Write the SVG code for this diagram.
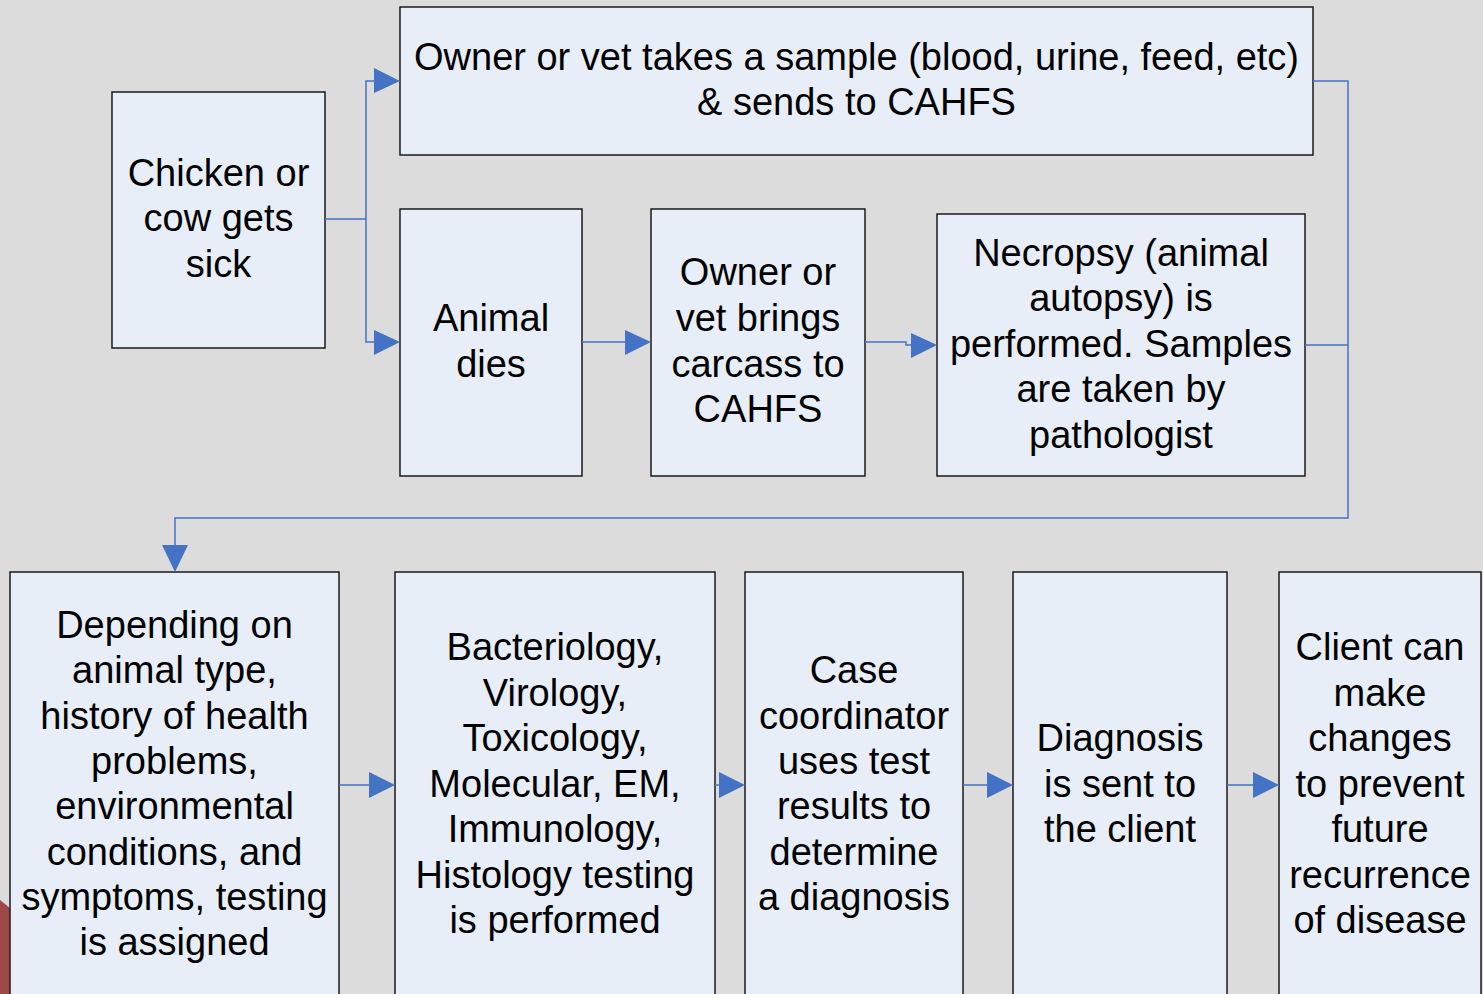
<svg xmlns="http://www.w3.org/2000/svg" width="1483" height="994" viewBox="0 0 1483 994">
<defs>
<style>
.box{fill:#e8eef8;stroke:#1a1a1a;stroke-width:1.5}
.t{font-family:"Liberation Sans",Arial,sans-serif;font-size:38px;fill:#000;text-anchor:middle}
.c{fill:none;stroke:#4472c4;stroke-width:1.5}
.ah{fill:#4472c4}
</style>
</defs>
<rect width="1483" height="994" fill="#dcdcdc"/>
<polygon points="0,900 10,908 10,994 0,994" fill="#a04848"/>
<g id="sick"><rect class="box" x="112" y="92" width="213" height="256"/>
<text class="t" x="218.5" y="186">Chicken or</text><text class="t" x="218.5" y="231">cow gets</text><text class="t" x="218.5" y="277">sick</text></g>
<g id="sample"><rect class="box" x="400" y="7" width="913" height="148"/>
<text class="t" x="856.5" y="70">Owner or vet takes a sample (blood, urine, feed, etc)</text><text class="t" x="856.5" y="115">&amp; sends to CAHFS</text></g>
<g id="dies"><rect class="box" x="400" y="209" width="182" height="267"/>
<text class="t" x="491" y="331">Animal</text><text class="t" x="491" y="377">dies</text></g>
<g id="brings"><rect class="box" x="651" y="209" width="214" height="267"/>
<text class="t" x="758" y="285">Owner or</text><text class="t" x="758" y="331">vet brings</text><text class="t" x="758" y="377">carcass to</text><text class="t" x="758" y="422">CAHFS</text></g>
<g id="necropsy"><rect class="box" x="937" y="214" width="368" height="262"/>
<text class="t" x="1121" y="266">Necropsy (animal</text><text class="t" x="1121" y="311">autopsy) is</text><text class="t" x="1121" y="357">performed. Samples</text><text class="t" x="1121" y="402">are taken by</text><text class="t" x="1121" y="448">pathologist</text></g>
<g id="depending"><rect class="box" x="10" y="572" width="329" height="430"/>
<text class="t" x="174.5" y="638">Depending on</text><text class="t" x="174.5" y="683">animal type,</text><text class="t" x="174.5" y="729">history of health</text><text class="t" x="174.5" y="774">problems,</text><text class="t" x="174.5" y="819">environmental</text><text class="t" x="174.5" y="865">conditions, and</text><text class="t" x="174.5" y="910">symptoms, testing</text><text class="t" x="174.5" y="955">is assigned</text></g>
<g id="testing"><rect class="box" x="395" y="572" width="320" height="430"/>
<text class="t" x="555" y="660">Bacteriology,</text><text class="t" x="555" y="706">Virology,</text><text class="t" x="555" y="751">Toxicology,</text><text class="t" x="555" y="797">Molecular, EM,</text><text class="t" x="555" y="842">Immunology,</text><text class="t" x="555" y="888">Histology testing</text><text class="t" x="555" y="933">is performed</text></g>
<g id="coordinator"><rect class="box" x="745" y="572" width="218" height="430"/>
<text class="t" x="854" y="683">Case</text><text class="t" x="854" y="729">coordinator</text><text class="t" x="854" y="774">uses test</text><text class="t" x="854" y="819">results to</text><text class="t" x="854" y="865">determine</text><text class="t" x="854" y="910">a diagnosis</text></g>
<g id="diagnosis"><rect class="box" x="1013" y="572" width="214" height="430"/>
<text class="t" x="1120" y="751">Diagnosis</text><text class="t" x="1120" y="797">is sent to</text><text class="t" x="1120" y="842">the client</text></g>
<g id="client"><rect class="box" x="1279" y="572" width="202" height="430"/>
<text class="t" x="1380" y="660">Client can</text><text class="t" x="1380" y="706">make</text><text class="t" x="1380" y="751">changes</text><text class="t" x="1380" y="797">to prevent</text><text class="t" x="1380" y="842">future</text><text class="t" x="1380" y="888">recurrence</text><text class="t" x="1380" y="933">of disease</text></g>
<g id="connectors">
<polyline class="c" points="325,219 366,219"/>
<polyline class="c" points="376,81 366,81 366,342 376,342"/>
<polygon class="ah" points="374,68 400,81 374,93"/>
<polygon class="ah" points="374,330 400,342 374,355"/>
<polyline class="c" points="582,342 627,342"/>
<polygon class="ah" points="625,330 651,342 625,355"/>
<polyline class="c" points="865,342 906,342 906,345 913,345"/>
<polygon class="ah" points="911,333 937,345 911,358"/>
<polyline class="c" points="1313,81 1348,81 1348,518 175,518 175,547"/>
<polyline class="c" points="1305,345 1348,345"/>
<polygon class="ah" points="162,545 175,572 188,545"/>
<polyline class="c" points="339,785 371,785"/>
<polygon class="ah" points="369,772 395,785 369,798"/>
<polyline class="c" points="715,785 720,785"/>
<polygon class="ah" points="719,772 745,785 719,798"/>
<polyline class="c" points="963,785 989,785"/>
<polygon class="ah" points="987,772 1013,785 987,798"/>
<polyline class="c" points="1227,785 1255,785"/>
<polygon class="ah" points="1253,772 1279,785 1253,798"/>
</g>
</svg>
